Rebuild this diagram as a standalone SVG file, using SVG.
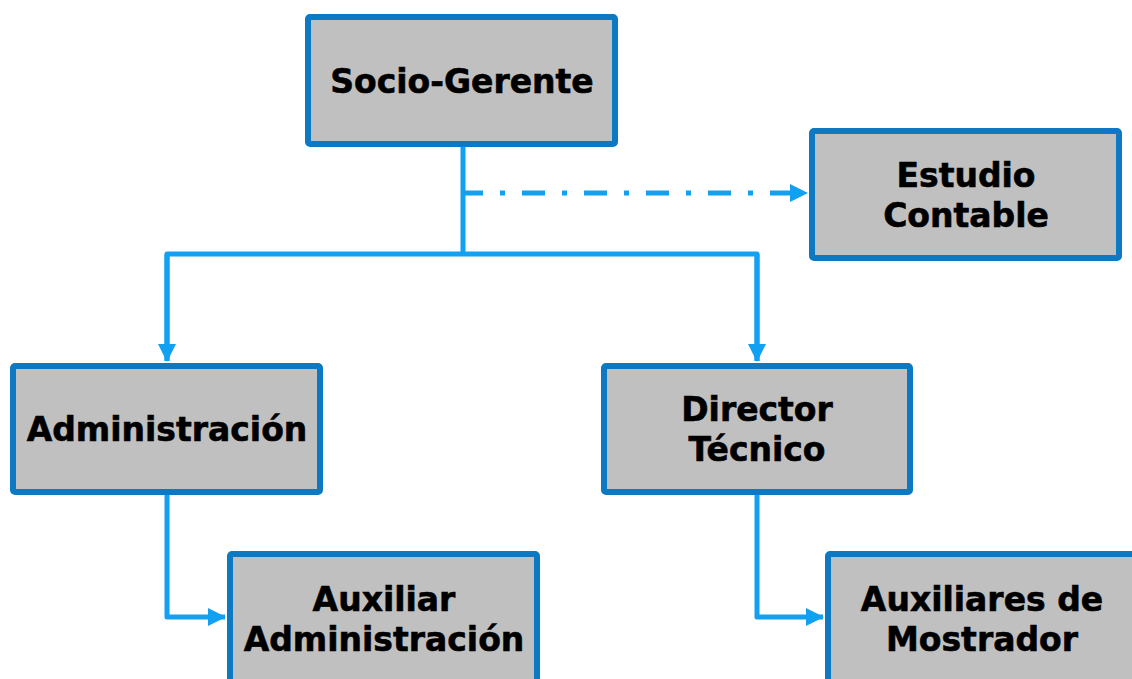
<svg xmlns="http://www.w3.org/2000/svg" width="1132" height="679" viewBox="0 0 1132 679">
<style>
.box{fill:#c0c0c0;stroke:#0d79c2;stroke-width:6;}
.lbl{font-family:"DejaVu Sans","Verdana",sans-serif;font-weight:bold;font-size:33px;fill:#000;text-anchor:middle;stroke:#000;stroke-width:0.6;}
.conn{fill:none;stroke:#12a0f2;stroke-width:5;stroke-linejoin:round;}
</style>
<defs>
<marker id="arr" markerUnits="userSpaceOnUse" viewBox="0 0 18 18" markerWidth="18" markerHeight="18" refX="17" refY="9" orient="auto">
<path d="M0,0 L18,9 L0,18 z" fill="#12a0f2"/>
</marker>
</defs>
<rect width="1132" height="679" fill="#fff"/>
<g id="connectors">
<path class="conn" d="M463,147 V254"/>
<path class="conn" d="M167,361 V254 H757 V361"/>
<path class="conn" d="M167,254 V361" marker-end="url(#arr)"/>
<path class="conn" d="M757,254 V361" marker-end="url(#arr)"/>
<path class="conn" d="M463,193 H807" stroke-dasharray="23 17 5 17" stroke-dashoffset="3" marker-end="url(#arr)"/>
<path class="conn" d="M167,495 V617 H225" marker-end="url(#arr)"/>
<path class="conn" d="M757,495 V617 H823" marker-end="url(#arr)"/>
</g>
<g id="socio-gerente">
<rect class="box" x="308" y="17" width="307" height="127" rx="2"/>
<text class="lbl" x="462" y="93">Socio-Gerente</text>
</g>
<g id="estudio-contable">
<rect class="box" x="812" y="131" width="307" height="127" rx="2"/>
<text class="lbl" x="966" y="187">Estudio</text>
<text class="lbl" x="966" y="227">Contable</text>
</g>
<g id="administracion">
<rect class="box" x="13" y="366" width="307" height="126" rx="2"/>
<text class="lbl" x="167" y="441">Administración</text>
</g>
<g id="director-tecnico">
<rect class="box" x="604" y="366" width="306" height="126" rx="2"/>
<text class="lbl" x="757" y="421">Director</text>
<text class="lbl" x="757" y="461">Técnico</text>
</g>
<g id="auxiliar-administracion">
<rect class="box" x="230" y="554" width="307" height="140" rx="2"/>
<text class="lbl" x="384" y="611">Auxiliar</text>
<text class="lbl" x="384" y="651">Administración</text>
</g>
<g id="auxiliares-mostrador">
<rect class="box" x="828" y="554" width="320" height="140" rx="2"/>
<text class="lbl" x="982" y="611">Auxiliares de</text>
<text class="lbl" x="982" y="651">Mostrador</text>
</g>
</svg>
